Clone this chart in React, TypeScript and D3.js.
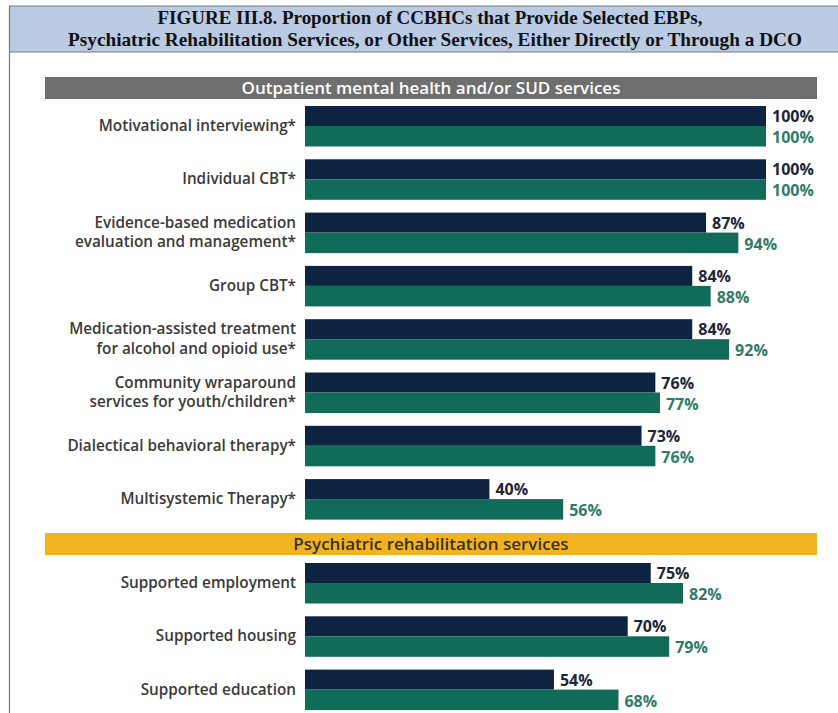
import React from "react";
import * as d3 from "d3";

const titleLines = [
  "FIGURE III.8. Proportion of CCBHCs that Provide Selected EBPs,",
  "Psychiatric Rehabilitation Services, or Other Services, Either Directly or Through a DCO",
];
const titleWidths = [545, 734];
const titleCenters = [430, 435];

const section1Title = "Outpatient mental health and/or SUD services";
const section1Labels: string[][] = [
  ["Motivational interviewing*"],
  ["Individual CBT*"],
  ["Evidence-based medication", "evaluation and management*"],
  ["Group CBT*"],
  ["Medication-assisted treatment", "for alcohol and opioid use*"],
  ["Community wraparound", "services for youth/children*"],
  ["Dialectical behavioral therapy*"],
  ["Multisystemic Therapy*"],
];
const section1Dark = [100, 100, 87, 84, 84, 76, 73, 40];
const section1Green = [100, 100, 94, 88, 92, 77, 76, 56];

const section2Title = "Psychiatric rehabilitation services";
const section2Labels: string[][] = [
  ["Supported employment"],
  ["Supported housing"],
  ["Supported education"],
];
const section2Dark = [75, 70, 54];
const section2Green = [82, 79, 68];

const NAVY = "#0e2341";
const GREEN = "#106b58";
const FONT = "'Open Sans', sans-serif";

const x = d3.scaleLinear().domain([0, 100]).range([305, 766]);
const STEP = 53.3;
const BAR_H = 20;

function Section({
  labels,
  dark,
  green,
  top,
}: {
  labels: string[][];
  dark: number[];
  green: number[];
  top: number;
}) {
  const y = d3
    .scaleBand<number>()
    .domain(d3.range(labels.length))
    .range([top, top + STEP * labels.length])
    .paddingInner(0)
    .paddingOuter(0);
  return (
    <g>
      {labels.map((lines, i) => {
        const y0 = y(i)!;
        const mid = y0 + BAR_H;
        return (
          <g key={i}>
            <rect x={x(0)} y={y0} width={x(dark[i]) - x(0)} height={BAR_H} fill={NAVY} />
            <rect x={x(0)} y={y0 + BAR_H} width={x(green[i]) - x(0)} height={BAR_H + 0.5} fill={GREEN} />
            <text
              x={x(dark[i]) + 6}
              y={y0 + 16}
              fontFamily={FONT}
              fontWeight={700}
              fontSize={16}
              fill="#1d2538"
            >
              {dark[i]}%
            </text>
            <text
              x={x(green[i]) + 6}
              y={y0 + BAR_H + 17}
              fontFamily={FONT}
              fontWeight={700}
              fontSize={16}
              fill="#2f7a68"
            >
              {green[i]}%
            </text>
            {lines.map((ln, j) => (
              <text
                key={j}
                x={296}
                y={mid + 5 + (j - (lines.length - 1) / 2) * 19.5}
                textAnchor="end"
                fontFamily={FONT}
                fontWeight={600}
                fontSize={15.3}
                fill="#3a3a3a"
              >
                {ln}
              </text>
            ))}
          </g>
        );
      })}
    </g>
  );
}

export default function App() {
  return (
    <div style={{ position: "absolute", left: 0, top: 0 }}>
      <svg width={838} height={713} style={{ display: "block", background: "#ffffff" }}>
        <rect x={9} y={6} width={840} height={46} fill="#bacbe3" />
        <line x1={9} x2={838} y1={6} y2={6} stroke="#7a7a7a" strokeWidth={1.2} />
        <line x1={9} x2={838} y1={52} y2={52} stroke="#7a7a7a" strokeWidth={1.2} />
        <line x1={9.5} x2={9.5} y1={6} y2={713} stroke="#7a7a7a" strokeWidth={1.2} />
        {titleLines.map((t, i) => (
          <text
            key={i}
            x={titleCenters[i]}
            y={24 + i * 21.5}
            textAnchor="middle"
            fontFamily="'Liberation Serif', 'Times New Roman', serif"
            fontWeight={700}
            fontSize={19}
            textLength={titleWidths[i]}
            lengthAdjust="spacingAndGlyphs"
            fill="#111"
          >
            {t}
          </text>
        ))}

        <rect x={45} y={77} width={772} height={22} fill="#6e6e6e" />
        <text
          x={431}
          y={94}
          textAnchor="middle"
          fontFamily={FONT}
          fontWeight={600}
          fontSize={17}
          fill="#ffffff"
        >
          {section1Title}
        </text>
        <Section labels={section1Labels} dark={section1Dark} green={section1Green} top={106} />

        <rect x={45} y={533} width={772} height={22} fill="#f1b420" />
        <text
          x={431}
          y={550}
          textAnchor="middle"
          fontFamily={FONT}
          fontWeight={600}
          fontSize={17}
          fill="#3a3220"
        >
          {section2Title}
        </text>
        <Section labels={section2Labels} dark={section2Dark} green={section2Green} top={563} />
      </svg>
    </div>
  );
}
